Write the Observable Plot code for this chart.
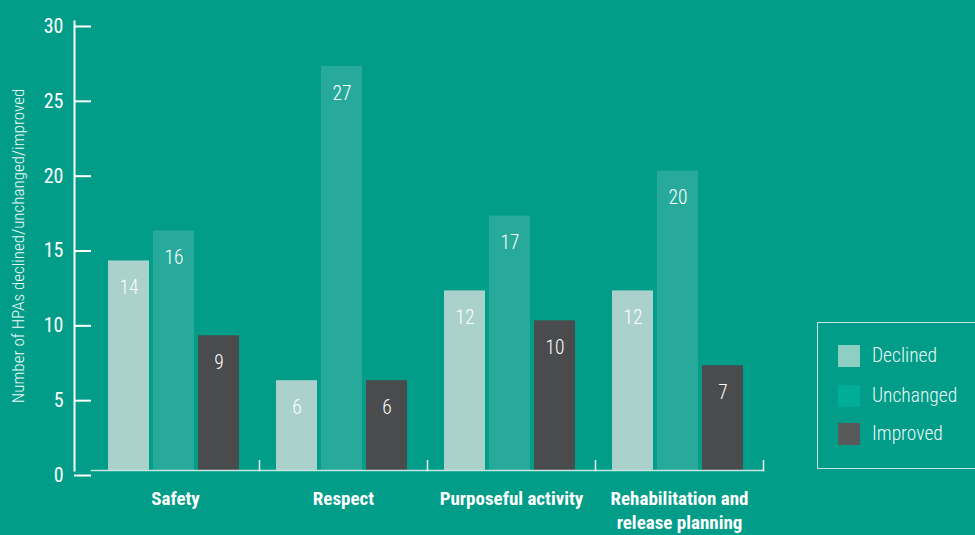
<!DOCTYPE html>
<html>
<head>
<meta charset="utf-8">
<script src="https://cdn.jsdelivr.net/npm/d3@7"></script>
<script src="https://cdn.jsdelivr.net/npm/@observablehq/plot@0.6"></script>
<style>
  html, body { margin: 0; padding: 0; background: #019d89; }
  #wrap { position: relative; width: 975px; height: 535px; overflow: hidden; background: #019d89;
    font-family: "Roboto Condensed", "DejaVu Sans Condensed", sans-serif; }
  #legend { position: absolute; left: 817px; top: 322px; width: 170px; height: 147px;
    border: 1.5px solid #c5e5df; box-sizing: border-box; }
  .item { position: absolute; left: 20px; display: flex; align-items: center; color: #eef8f6; font-size: 19.5px; font-weight: 300; }
  .sw { width: 22px; height: 22px; margin-right: 12px; }
</style>
</head>
<body>
<div id="wrap"><div id="chart"></div><div id="legend"></div></div>
<script>
const categories = ["Safety", "Respect", "Purposeful activity", "Rehabilitation and release planning"];
const categoryLabels = ["Safety", "Respect", "Purposeful activity", "Rehabilitation and\nrelease planning"];
const series = ["Declined", "Unchanged", "Improved"];
const declined = [14, 6, 12, 12];
const unchanged = [16, 27, 17, 20];
const improved = [9, 6, 10, 7];
const yTicks = [0, 5, 10, 15, 20, 25, 30];
const yLabel = "Number of HPAs declined/unchanged/improved";
const barColors = ["#aad1cc", "#27a99b", "#4a4b4d"];
const legendColors = ["#8ecfc4", "#00ae98", "#58595b"];

const valuesBySeries = [declined, unchanged, improved];
const data = [];
categories.forEach((c, i) => series.forEach((s, j) => data.push({category: c, series: s, value: valuesBySeries[j][i]})));

const font = '"Roboto Condensed", "DejaVu Sans Condensed", sans-serif';
const tickLine = {draw(context, l) { context.moveTo(0, 0); context.lineTo(0, -l); }};

const chart = Plot.plot({
  width: 975,
  height: 535,
  marginLeft: 91,
  marginRight: 212,
  marginTop: 21,
  marginBottom: 65,
  style: {background: "transparent", color: "white", fontFamily: font, overflow: "visible"},
  fx: {domain: categories, padding: 0},
  x: {domain: series, paddingInner: 4 / 45, paddingOuter: 18.5 / 45, align: 0.47, axis: null},
  y: {domain: [0, 30]},
  color: {domain: series, range: barColors},
  marks: [
    Plot.barY(data, {fx: "category", x: "series", y: "value", fill: "series"}),
    Plot.text(data, {fx: "category", x: "series", y: "value", text: d => String(d.value), dy: 27, fill: "white", fontSize: 19.5, fontWeight: 300}),
    Plot.frame({anchor: "bottom", stroke: "#c8e6e1", strokeWidth: 1.5}),
    Plot.vector([0], {frameAnchor: "bottom-right", length: 10, anchor: "start", rotate: 0, shape: tickLine, stroke: "#eaf6f3", strokeWidth: 1.5}),
    Plot.frame({anchor: "left", facetAnchor: "left", dx: -17, stroke: "white", strokeWidth: 2}),
    Plot.axisY({anchor: "left", ticks: yTicks, tickSize: 17, tickPadding: 11, tickFormat: d => String(d), fontSize: 20, fontWeight: 400, dy: 5, strokeWidth: 2, label: null}),
    Plot.text([yLabel], {frameAnchor: "left", facetAnchor: "left", textAnchor: "middle", rotate: -90, dx: -73, dy: 0, fontSize: 17, fontWeight: 300, fill: "#eef8f6"}),
    Plot.axisFx({anchor: "bottom", tickSize: 0, tickPadding: 17, label: null, fontSize: 19, fontWeight: "bold", lineHeight: 1.28,
      tickFormat: d => categoryLabels[categories.indexOf(d)]})
  ]
});
document.getElementById("chart").appendChild(chart);

const legend = document.getElementById("legend");
const tops = [21, 61, 99];
series.forEach((s, i) => {
  const item = document.createElement("div");
  item.className = "item";
  item.style.top = tops[i] + "px";
  const sw = document.createElement("div");
  sw.className = "sw";
  sw.style.background = legendColors[i];
  const t = document.createElement("span");
  t.textContent = s;
  item.appendChild(sw);
  item.appendChild(t);
  legend.appendChild(item);
});
</script>
</body>
</html>
